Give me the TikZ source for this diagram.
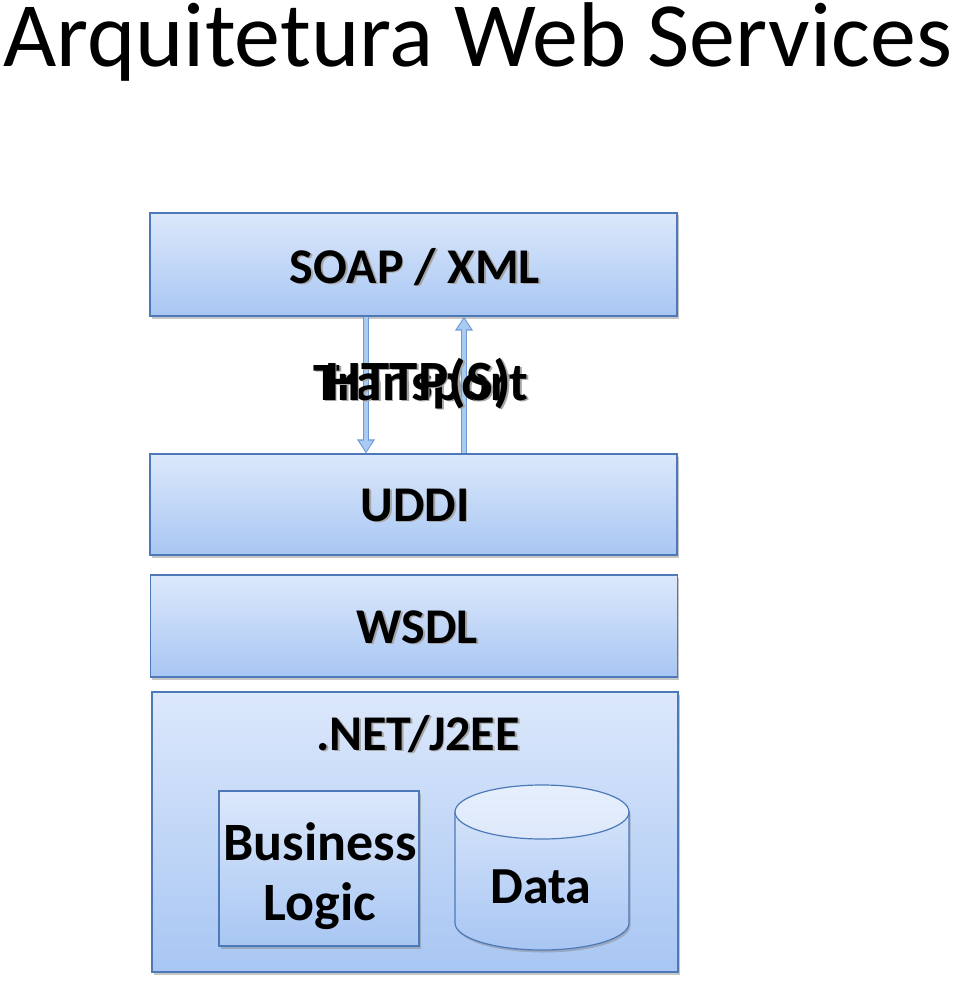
\documentclass[tikz,border=0pt]{standalone}
\usepackage{fontspec}
\setmainfont{Carlito}
\usetikzlibrary{shadows,arrows.meta,calc}
\definecolor{boxtop}{HTML}{DCE8FB}
\definecolor{boxbot}{HTML}{A8C6F3}
\definecolor{boxline}{HTML}{4E79B9}
\definecolor{arrowfill}{HTML}{A9CBF2}
\definecolor{arrowline}{HTML}{6D98D2}
\tikzset{
  layer/.style={draw=boxline, line width=1.2pt, top color=boxtop, bottom color=boxbot,
    inner sep=0pt, drop shadow={shadow xshift=1.5pt, shadow yshift=-2.5pt, opacity=0.45}},
  lbl/.style={font=\bfseries\fontsize{50}{50}\selectfont, inner sep=0pt, anchor=base},
  shd/.style={lbl, text=black!35},
  flowout/.style={draw=arrowline, line width=6pt, -{Triangle[length=14pt,width=17pt]}},
  flowin/.style={draw=arrowfill, line width=3.4pt, shorten >=1.8pt, -{Triangle[length=11pt,width=13pt]}},
}
\newcommand{\shlabel}[4][50]{%
  \node[shd, font=\bfseries\fontsize{#1}{#1}\selectfont] at ($(#3)+(1.8,-1.8)$) {#4};
  \node[lbl, font=\bfseries\fontsize{#1}{#1}\selectfont] (#2) at (#3) {#4};}
\begin{document}
\begin{tikzpicture}[x=1pt,y=1pt]
\useasboundingbox (0,0) rectangle (960,-984);
% title
\node[font=\fontsize{92}{92}\selectfont, anchor=base west, inner sep=0pt] (title) at (3,-67) {Arquitetura Web Services};
% layers
\node[layer, minimum width=527pt, minimum height=103pt] (soap) at (413.5,-264.5) {};
\node[layer, minimum width=527pt, minimum height=101pt] (uddi) at (413.5,-504.5) {};
\node[layer, minimum width=527pt, minimum height=102pt] (wsdl) at (414,-626) {};
\node[layer, minimum width=526pt, minimum height=280pt] (net) at (415,-832) {};
\node[layer, minimum width=200pt, minimum height=155pt] (bl) at (319,-868.5) {};
% cylinder
\shade[top color=boxtop, bottom color=boxbot, drop shadow={shadow xshift=1.5pt, shadow yshift=-2.5pt, opacity=0.45}]
  (455,-812) -- (455,-923) arc[start angle=180, end angle=360, x radius=87pt, y radius=27pt]
  -- (629,-812) arc[start angle=0, end angle=180, x radius=87pt, y radius=27pt] -- cycle;
\shade[top color=boxtop!70!white, bottom color=boxtop]
  (542,-812) ellipse[x radius=87pt, y radius=27pt];
\draw[boxline, line width=1.2pt]
  (455,-812) -- (455,-923) arc[start angle=180, end angle=360, x radius=87pt, y radius=27pt]
  -- (629,-812) arc[start angle=0, end angle=180, x radius=87pt, y radius=27pt] -- cycle;
\draw[boxline, line width=1.2pt] (455,-812) arc[start angle=180, end angle=360, x radius=87pt, y radius=27pt];
% labels
\shlabel{soapt}{415,-283}{SOAP / XML}
\shlabel{uddit}{415,-521}{UDDI}
\shlabel{wsdlt}{417,-643}{WSDL}
\shlabel{nett}{418,-750}{.NET/J2EE}
\node[lbl, font=\bfseries\fontsize{54}{54}\selectfont] (blt1) at (320,-860) {Business};
\node[lbl, font=\bfseries\fontsize{54}{54}\selectfont] (blt2) at (320,-920) {Logic};
\node[lbl, font=\bfseries\fontsize{52}{52}\selectfont] (datat) at (541,-903) {Data};
% arrows
\coordinate (dx) at (366,0);
\coordinate (ux) at (464,0);
\draw[flowout] (soap.south -| dx) -- (uddi.north -| dx);
\draw[flowin] (soap.south -| dx) -- (uddi.north -| dx);
\draw[flowout] (uddi.north -| ux) -- (soap.south -| ux);
\draw[flowin] (uddi.north -| ux) -- (soap.south -| ux);
\shlabel[54]{tr}{421,-400}{Transport}
\shlabel[57]{http}{418,-400}{HTTP(S)}
\end{tikzpicture}
\end{document}
